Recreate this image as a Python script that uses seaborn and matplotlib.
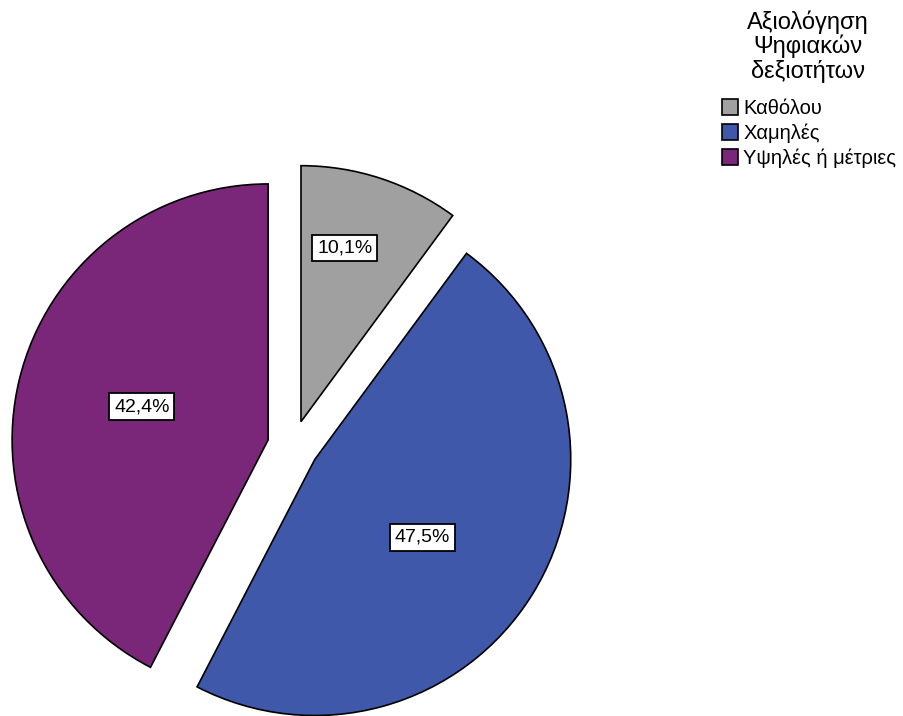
import numpy as np
import matplotlib
matplotlib.use("Agg")
import matplotlib.pyplot as plt
import seaborn as sns
from matplotlib.patches import Patch

categories = ["Καθόλου", "Χαμηλές", "Υψηλές ή μέτριες"]
values = [10.1, 47.5, 42.4]
legend_title = "Αξιολόγηση\nΨηφιακών\nδεξιοτήτων"
colors = ["#a0a0a0", "#3f58aa", "#7b2779"]

sns.set_style("white")
plt.rcParams["font.family"] = ["Liberation Sans", "DejaVu Sans"]
plt.rcParams["text.color"] = "black"

W, H = 904, 716
fig = plt.figure(figsize=(W / 100, H / 100), dpi=100)
cx, cy, R = 293, 446, 256
ax = fig.add_axes([0, 0, 1, 1])

palette = sns.color_palette(colors)
wedges, _ = ax.pie(values, colors=palette, startangle=90, counterclock=False,
                   explode=[0.1] * len(values), radius=1.0,
                   wedgeprops=dict(edgecolor="black", linewidth=1.2))

# label placement: (fraction of radius, angular offset in degrees)
label_place = [(0.70, 4.0), (0.52, -4.0), (0.51, -1.0)]
for w, v, (d, off) in zip(wedges, values, label_place):
    th = np.deg2rad((w.theta1 + w.theta2) / 2 + off)
    x0, y0 = w.center
    ax.text(x0 + d * w.r * np.cos(th), y0 + d * w.r * np.sin(th),
            f"{v:.1f}%".replace(".", ","), ha="center", va="center",
            fontsize=14, color="black",
            bbox=dict(boxstyle="square,pad=0.25", facecolor="white",
                      edgecolor="black", linewidth=1.3))

ax.set_xlim((0 - cx) / R, (W - cx) / R)
ax.set_ylim((cy - H) / R, cy / R)
ax.set_aspect("auto")
ax.axis("off")

handles = [Patch(facecolor=c, edgecolor="black", linewidth=1.2) for c in palette]
leg = fig.legend(handles, categories, loc="upper left",
                 bbox_to_anchor=(712 / W, 1 - 89 / H), frameon=False,
                 fontsize=14.5, borderpad=0,
                 handlelength=0.8, handleheight=0.8, handletextpad=0.25,
                 labelspacing=0.27)
for t in leg.get_texts():
    t.set_color("black")

fig.text(808 / W, 1 - 10 / H, legend_title, ha="center", va="top",
         fontsize=17, color="black", linespacing=1.08,
         multialignment="center")

fig.savefig("out.png", dpi=100)
